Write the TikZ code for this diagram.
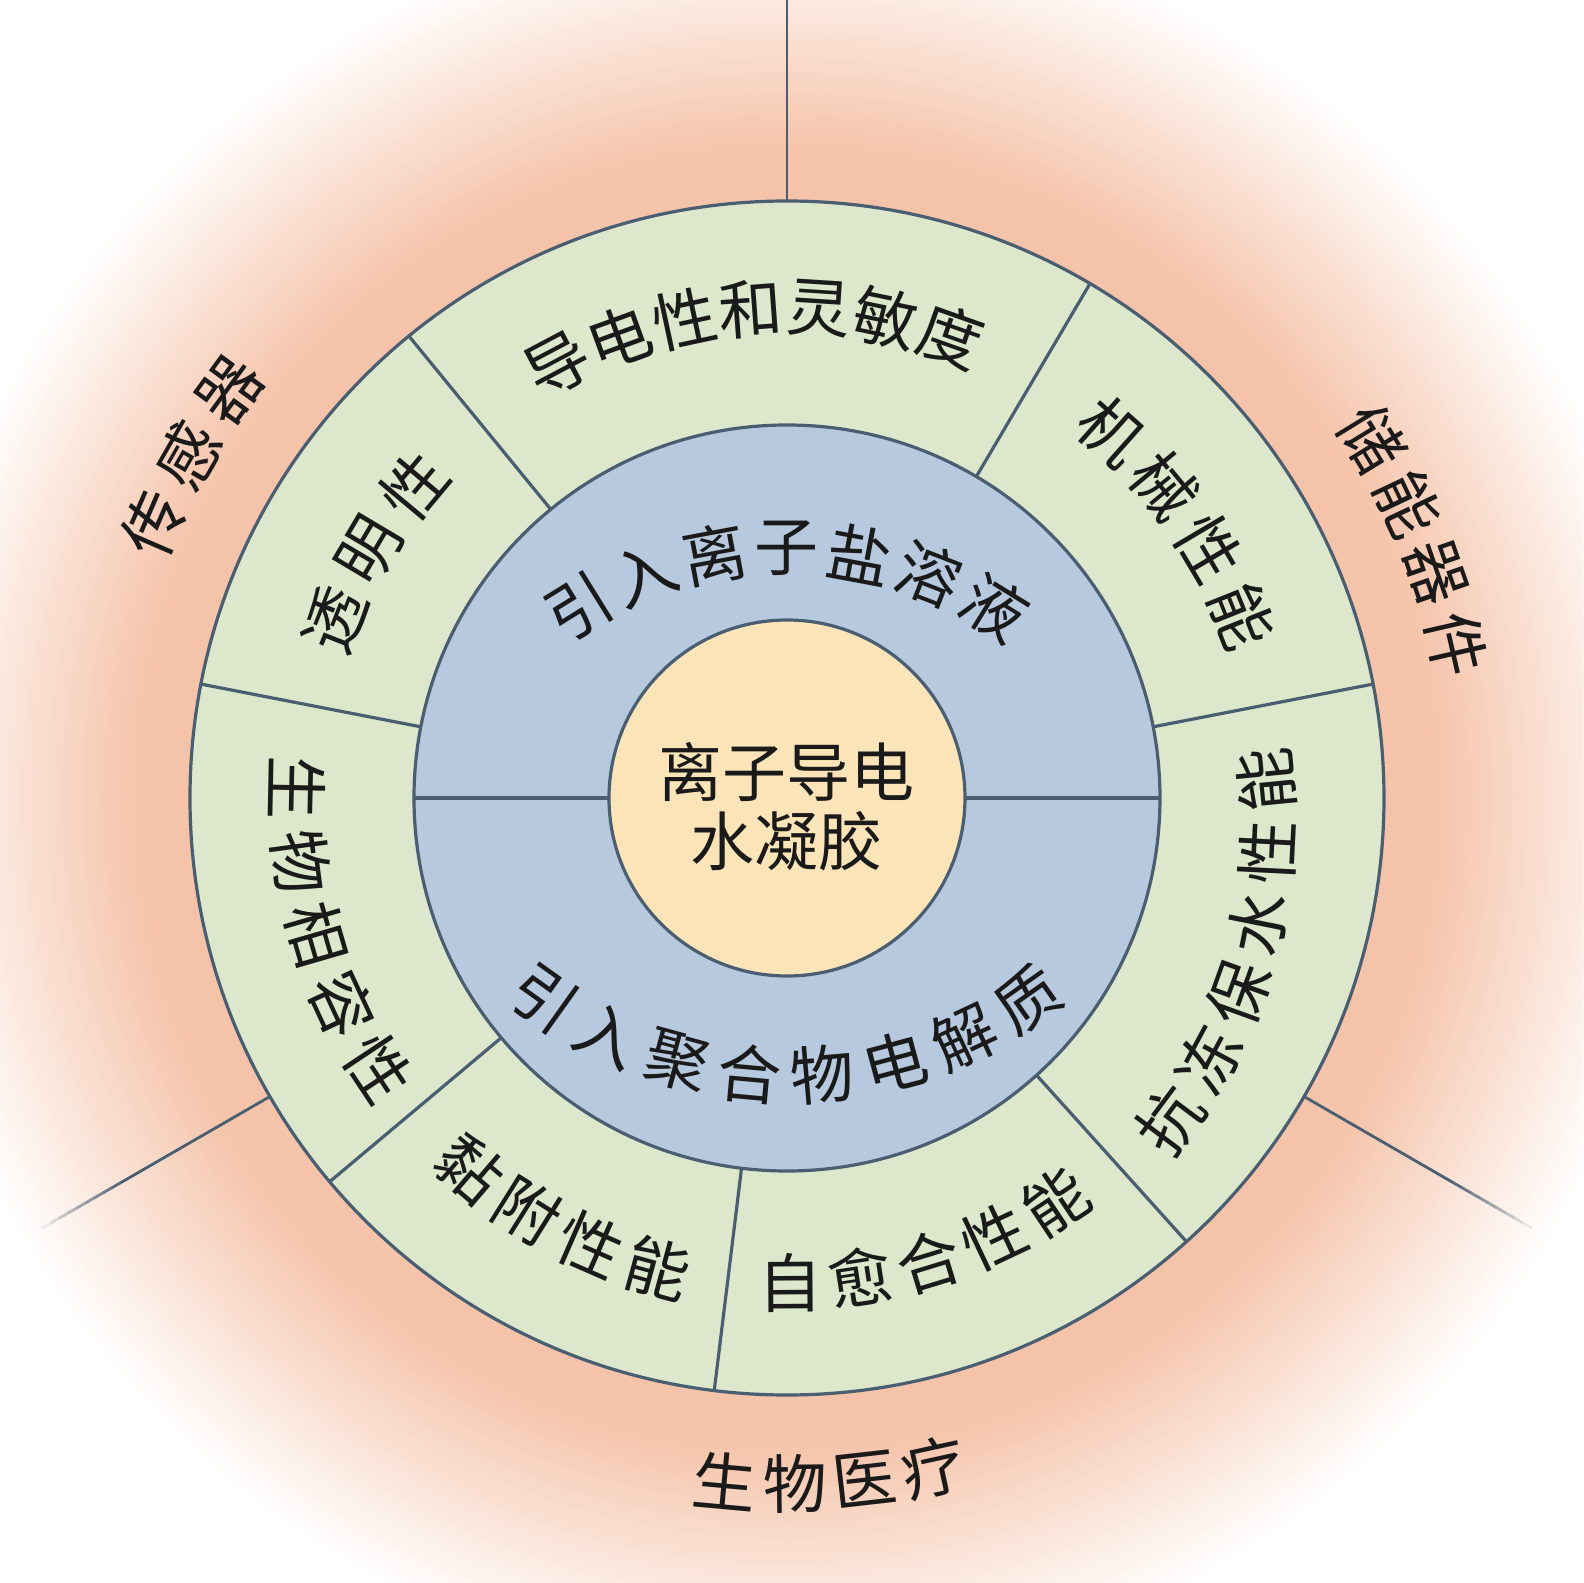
\documentclass[tikz,border=0pt]{standalone}
\usepackage{fontspec}
\newfontfamily\cjk{Noto Sans CJK SC}
\usetikzlibrary{calc}

\definecolor{hgline}{HTML}{4A5E72}
\definecolor{hggreen}{HTML}{DDE7CB}
\definecolor{hgblue}{HTML}{B7C9DE}
\definecolor{hgcore}{HTML}{FBE5B8}
\definecolor{hgpeach}{HTML}{F5C3A9}
\definecolor{hgtext}{HTML}{1A1A1A}
\tikzset{
  rim/.style={draw=hgline,line width=3.2pt},
  spoke/.style={hgline,line width=2.8pt},
  glyph/.style={font=\cjk\fontsize{64}{64}\selectfont,text=hgtext,inner sep=0pt},
}
% #1 centre, #2 radius, #3 first angle, #4 step, #5 turn, #6 name, #7 glyphs
\newcommand\arcword[7]{%
  \foreach \ch [count=\k from 0, evaluate=\k as \a using #3+\k*#4] in {#7}
    \node[glyph,rotate=\a+#5] (#6-\k) at ($(#1)+(\a:#2)$) {\ch};}

\begin{document}
\begin{tikzpicture}[x=1pt,y=1pt]
  \useasboundingbox (-787,-785) rectangle (796,798);
  \clip (-787,-785) rectangle (796,798);
  % glow round the wheel
  \foreach \r [evaluate=\r as \p using {int(min(100,(885-\r)/2.35))}] in {885,880,...,640}
    \fill[hgpeach!\p!white] (0,0) circle (\r);
  % spokes between the three fields
  \draw[spoke] (90:597) -- (90:820);
  \foreach \a in {210,330} {
    \draw[spoke] (\a:597) -- (\a:760);
    \foreach \i in {0,...,9}
      \draw[spoke,opacity={1-\i/10}] (\a:{760+\i*10}) -- (\a:{770+\i*10});}
  % rings
  \draw[rim,fill=hggreen] (0,0) circle (597);
  \draw[rim,fill=hgblue] (0,0) circle (373);
  \foreach \a in {129.3,59.5,11,-48,-97,-140,169}
    \draw[rim] (\a:373) -- (\a:597);
  \draw[rim] (180:373) -- (180:178) (0:178) -- (0:373);
  \draw[rim,fill=hgcore] (0,0) circle (178);
  % core
  \node[glyph] (core1) at (0,26) {离子导电};
  \node[glyph] (core2) at (0,-43) {水凝胶};
  % blue ring
  \arcword{0,-144}{394}{121.8}{-10.6}{-90}{salt}{引,入,离,子,盐,溶,液}
  \arcword{0,139}{417}{234.5}{10.1}{90}{poly}{引,入,聚,合,物,电,解,质}
  % green ring
  \arcword{0,0}{490}{117.9}{-7.9}{-90}{cond}{导,电,性,和,灵,敏,度}
  \arcword{0,0}{490}{48.45}{-8.9}{-90}{mech}{机,械,性,能}
  \arcword{0,0}{486}{158.5}{-9.2}{-90}{trans}{透,明,性}
  \arcword{-9,-29}{490}{-36.8}{8.47}{90}{frost}{抗,冻,保,水,性,能}
  \arcword{0,0}{485}{-89.6}{8.3}{90}{heal}{自,愈,合,性,能}
  \arcword{0,0}{488}{-130.5}{8.4}{90}{adh}{黏,附,性,能}
  \arcword{0,0}{490}{178.8}{8.7}{90}{bio}{生,物,相,容,性}
  % fields
  \arcword{0,0}{690}{156.6}{-6.4}{-90}{sensor}{传,感,器}
  \arcword{0,0}{687}{31.55}{-6.2}{-90}{store}{储,能,器,件}
  \arcword{0,0}{686}{-95.2}{5.85}{90}{med}{生,物,医,疗}
\end{tikzpicture}
\end{document}
